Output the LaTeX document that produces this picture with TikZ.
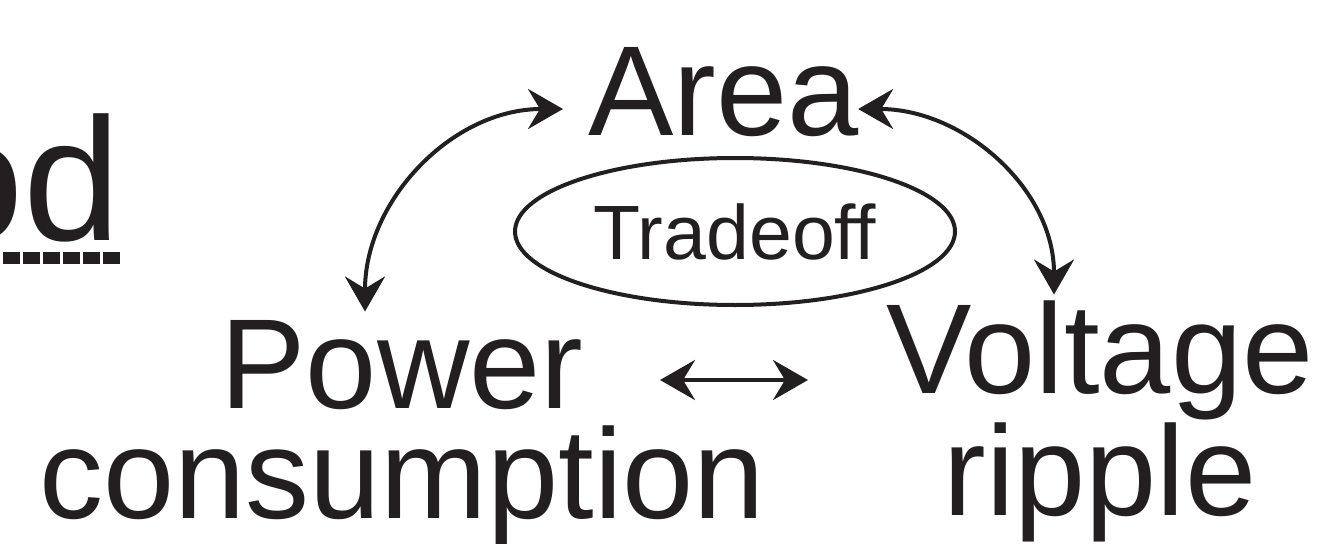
\documentclass[tikz,border=0pt]{standalone}
\usepackage{fontspec}
\setmainfont{Liberation Sans}
\usetikzlibrary{arrows.meta}
\usetikzlibrary{shapes.geometric}
\definecolor{inkblack}{RGB}{35,31,32}

\begin{document}
\begin{tikzpicture}[
	x=0.5pt, y=0.5pt,
	bignode/.style={inner sep=0pt, text=inkblack, align=center, font=\fontsize{64pt}{55pt}\selectfont},
	ovalnode/.style={ellipse, draw=inkblack, line width=2pt, inner sep=0pt, minimum width=220pt, minimum height=73.5pt, text=inkblack, font=\fontsize{38.5pt}{40pt}\selectfont},
	tradearrow/.style={draw=inkblack, line width=2pt, {Stealth[length=17.5pt,width=20pt,inset=6pt]}-{Stealth[length=17.5pt,width=20pt,inset=6pt]}},
	]
	\useasboundingbox (0,0) rectangle (1330,543);
	\clip (0,0) rectangle (1330,543);
	%Nodes
	\node[bignode, anchor=base west, font=\fontsize{87.5pt}{90pt}\selectfont] (od) at (-74,303) {od};
	\node[bignode, anchor=base west] (area) at (588,408) {Area};
	\node[ovalnode] (trade) at (735,311.5) {Tradeoff};
	\node[bignode, anchor=base] (power) at (402,25) {Power\\consumption};
	\node[bignode, anchor=base] (volt) at (1100,28) {Voltage\\ripple};

	%Underline
	\draw[draw=inkblack, line width=6pt, dash pattern=on 8.5pt off 1.5pt] ([shift={(-1,-18)}]od.base east) -- ([shift={(0,-18)}]od.base west);

	%Arrows
	\draw[tradearrow] ([shift={(-37,8)}]power.north) to[out=90,in=180] ([shift={(-25,26)}]area.base west);
	\draw[tradearrow] ([shift={(-1,26)}]area.base east) to[out=0,in=90] ([shift={(-46,6)}]volt.north);
	\draw[tradearrow] ([shift={(258,138)}]power.base) -- ([shift={(-292,135)}]volt.base);
\end{tikzpicture}
\end{document}
